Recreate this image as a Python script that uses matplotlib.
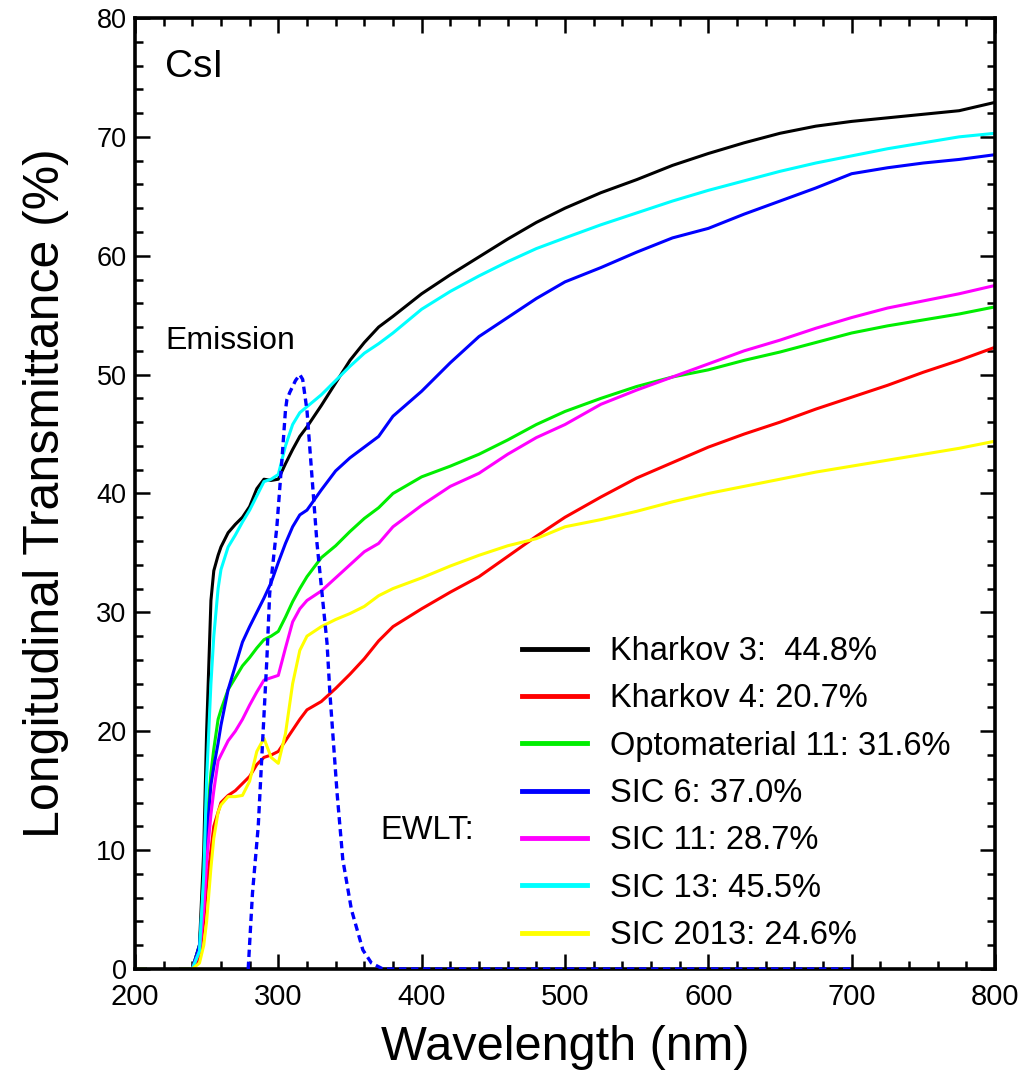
import numpy as np
import matplotlib
matplotlib.use("Agg")
import matplotlib.pyplot as plt
from matplotlib import font_manager
from matplotlib.ticker import MultipleLocator

nan = np.nan
# Wavelength grid (nm)
wl = [200, 207, 220, 232, 240, 245, 248, 250, 253, 255, 258, 260, 265, 270, 275,
      280, 285, 290, 295, 300, 305, 310, 315, 320, 330, 340, 350, 360, 370, 380,
      400, 420, 440, 460, 480, 500, 525, 550, 575, 600, 625, 650, 675, 700, 725,
      750, 775, 800]

kharkov3 = [0, 0, nan, 0, 0, 2, 10, 20, 31, 33.5, 34.8, 35.5, 36.7, 37.4, 38.0,
            38.9, 40.4, 41.2, 41.1, 41.2, 42.5, 43.7, 44.8, 45.6, 47.4, 49.3, 51.2, 52.7, 54.0, 54.9,
            56.8, 58.4, 59.9, 61.4, 62.8, 64.0, 65.3, 66.4, 67.6, 68.6, 69.5, 70.3, 70.9, 71.3, 71.6,
            71.9, 72.2, 72.9]
kharkov4 = [0, 0, nan, 0, 0, 1, 4, 7, 10, 12, 13.2, 14.0, 14.6, 15.0, 15.6,
            16.2, 17.2, 17.8, 18.0, 18.3, 19.2, 20.1, 21.0, 21.8, 22.5, 23.6, 24.8, 26.1, 27.6, 28.8,
            30.3, 31.7, 33.0, 34.7, 36.4, 38.0, 39.7, 41.3, 42.6, 43.9, 45.0, 46.0, 47.1, 48.1, 49.1,
            50.2, 51.2, 52.3]
opto11 = [0, 0, nan, 0, 0, 2, 7, 12, 16.5, 18.5, 21, 21.8, 23.5, 24.5, 25.5,
          26.2, 27.0, 27.7, 28.0, 28.4, 29.6, 30.9, 32.0, 33.0, 34.6, 35.6, 36.8, 37.9, 38.8, 40.0,
          41.4, 42.3, 43.3, 44.5, 45.8, 46.9, 48.0, 49.0, 49.8, 50.4, 51.2, 51.9, 52.7, 53.5, 54.1,
          54.6, 55.1, 55.7]
sic6 = [0, 0, nan, 0, 0, 2, 7, 11, 15.5, 17, 19, 20.5, 23.5, 25.5, 27.5,
        28.8, 30.0, 31.2, 32.5, 34.2, 35.8, 37.2, 38.2, 38.6, 40.3, 41.9, 43.0, 43.9, 44.8, 46.5,
        48.6, 51.0, 53.2, 54.8, 56.4, 57.8, 59.0, 60.3, 61.5, 62.3, 63.5, 64.6, 65.7, 66.9, 67.4,
        67.8, 68.1, 68.5]
sic11 = [0, 0, nan, 0, 0, 1.5, 5, 9, 13, 15, 17.5, 18, 19.2, 20, 21,
         22.2, 23.3, 24.3, 24.5, 24.7, 27.0, 29.2, 30.3, 31.0, 31.8, 32.9, 34.0, 35.1, 35.8, 37.2,
         39.0, 40.6, 41.7, 43.3, 44.7, 45.8, 47.5, 48.7, 49.8, 50.9, 52.0, 52.9, 53.9, 54.8, 55.6,
         56.2, 56.8, 57.5]
sic13 = [0, 0, nan, 0, 0, 1.5, 8, 16, 24, 28, 32, 33.6, 35.5, 36.5, 37.6,
         38.6, 39.8, 41.0, 41.2, 41.6, 44.0, 45.8, 46.8, 47.3, 48.3, 49.5, 50.7, 51.8, 52.6, 53.5,
         55.5, 57.0, 58.3, 59.5, 60.6, 61.5, 62.6, 63.6, 64.6, 65.5, 66.3, 67.1, 67.8, 68.4, 69.0,
         69.5, 70.0, 70.3]
sic2013 = [0, 0, nan, 0, 0, 0.5, 2, 4, 8.5, 11.0, 13.2, 13.8, 14.5, 14.5, 14.6,
           15.8, 18.3, 19.4, 17.8, 17.3, 19.8, 24.0, 26.8, 28.0, 28.8, 29.4, 29.9, 30.5, 31.4, 32.0,
           32.9, 33.9, 34.8, 35.6, 36.2, 37.2, 37.8, 38.5, 39.3, 40.0, 40.6, 41.2, 41.8, 42.3, 42.8,
           43.3, 43.8, 44.4]

emission_wl = [279, 282, 286, 289, 292, 294, 299, 302.5, 305, 306, 308, 312, 315, 317,
               320, 323.5, 327, 330.5, 334, 336, 341, 345, 351, 359, 365, 373, 700]
emission = [0, 6.4, 12, 19, 26, 31.6, 37.2, 42.8, 47, 47.9, 48.5, 49.5, 50, 49.6,
            47, 41.4, 35.8, 31.6, 27.4, 23.2, 14.8, 9.2, 5.0, 1.6, 0.5, 0, 0]

labels = ["Kharkov 3:  44.8%", "Kharkov 4: 20.7%", "Optomaterial 11: 31.6%",
          "SIC 6: 37.0%", "SIC 11: 28.7%", "SIC 13: 45.5%", "SIC 2013: 24.6%"]
colors = ["#000000", "#ff0000", "#00ee00", "#0000ff", "#ff00ff", "#00ffff", "#ffff00"]
series = [kharkov3, kharkov4, opto11, sic6, sic11, sic13, sic2013]

names = {f.name for f in font_manager.fontManager.ttflist}
base = "Liberation Sans" if "Liberation Sans" in names else "DejaVu Sans"
plt.rcParams['font.family'] = [base, 'DejaVu Sans']

fig = plt.figure(figsize=(10.31, 10.70), dpi=100)
ax = fig.add_axes([0.1309, 0.0944, 0.8342, 0.8888])

for vals, c, lab in zip(series, colors, labels):
    ax.plot(wl, vals, color=c, lw=2.2, label=lab, solid_joinstyle='round')

ax.plot(emission_wl, emission, color="#0000ff", lw=2.4, linestyle=(0, (2.2, 1.4)), zorder=5)

ax.set_xlim(200, 800)
ax.set_ylim(0, 80)
ax.xaxis.set_major_locator(MultipleLocator(100))
ax.xaxis.set_minor_locator(MultipleLocator(20))
ax.yaxis.set_major_locator(MultipleLocator(10))
ax.yaxis.set_minor_locator(MultipleLocator(2))
ax.tick_params(which='both', direction='in', top=True, right=True, width=1.8)
ax.tick_params(which='major', length=11)
ax.tick_params(which='minor', length=6)
ax.tick_params(axis='y', labelsize=19.5, pad=6)
ax.tick_params(axis='x', labelsize=21, pad=10)
for sp in ax.spines.values():
    sp.set_linewidth(2.6)

ax.set_xlabel("Wavelength (nm)", fontsize=35, labelpad=10)
ax.set_ylabel("Longitudinal Transmittance (%)", fontsize=36, labelpad=20)

ax.text(221, 75.9, "CsI", fontsize=28, va='center', ha='left')
ax.text(221, 52.8, "Emission", fontsize=23, va='center', ha='left')
ax.text(0.285, 0.146, "EWLT:", fontsize=23.5, va='center', ha='left', transform=ax.transAxes)

leg = ax.legend(loc='upper left', bbox_to_anchor=(0.45, 0.35), frameon=False,
                fontsize=23.5, handlelength=2.0, handletextpad=0.7, labelspacing=0.5,
                borderpad=0, borderaxespad=0)
for h in leg.get_lines():
    h.set_linewidth(3.5)

fig.savefig("out.png", dpi=100)
